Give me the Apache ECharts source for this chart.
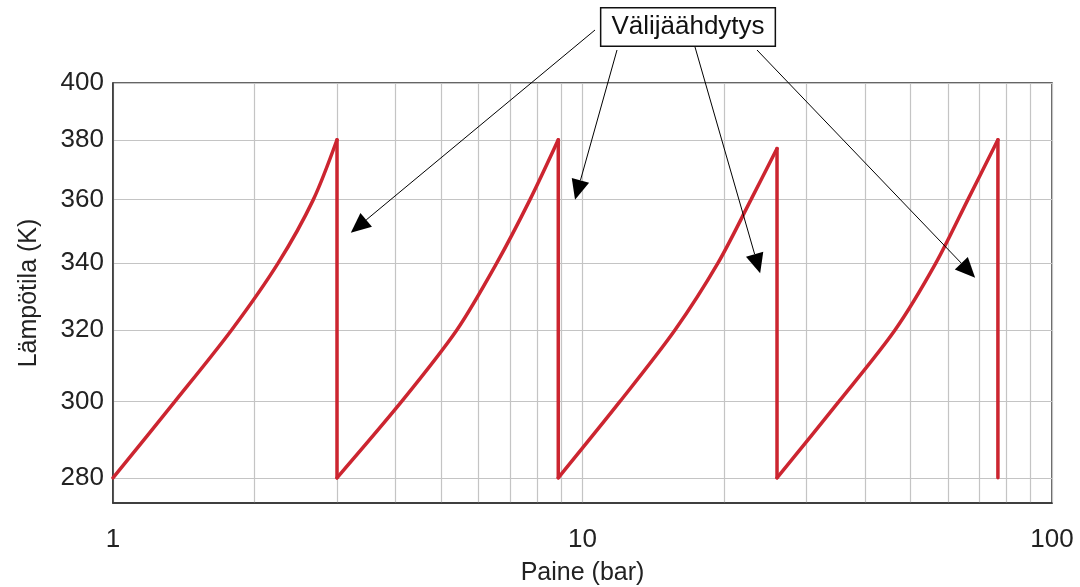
<!DOCTYPE html>
<html><head><meta charset="utf-8">
<script src="https://cdn.jsdelivr.net/npm/echarts@6/dist/echarts.min.js"></script>
<style>html,body{margin:0;padding:0;background:#fff}#c{width:1080px;height:587px}</style>
</head><body><div id="c"></div>
<script>
// ---- data ----
const xGridValues = [1,2,3,4,5,6,7,8,9,10,20,30,40,50,60,70,80,90,100];
const xLabelValues = [1,10,100];
const yTickValues = [280,300,320,340,360,380,400];
// four compression stages with intercooling between them (pressure in bar, temperature in K)
const pressure    = [1, 1.355, 1.789, 2.249, 2.671, 3.0, 3.0, 4.12, 5.40, 6.57, 7.73, 8.88, 8.88, 12.02, 15.74, 19.44, 22.85, 25.96, 25.96, 35.18, 46.31, 56.6, 66.2, 76.7, 76.7];
const temperature = [280, 300, 320, 340, 360, 380, 280, 300, 320, 340, 360, 380, 280, 300, 320, 340, 360, 377, 280, 300, 320, 340, 360, 380, 280];
const annotationText = 'Välijäähdytys';
const arrowTargetP = [3.21, 9.64, 23.9, 68.6];
const arrowTargetT = [349.4, 360, 336.8, 335.5];

const FONT = '"Liberation Sans", Arial, sans-serif';
const chart = echarts.init(document.getElementById('c'), null, {renderer: 'canvas'});

// split the path: rising compression curves (smooth) and vertical intercooling drops
const compression = [], cooling = [];
for (let i = 0; i < pressure.length; i++) {
  const pt = [pressure[i], temperature[i]];
  const prevSameX = i > 0 && pressure[i - 1] === pressure[i];
  if (prevSameX) { // bottom of a drop -> start of a new compression curve
    cooling.push([pressure[i - 1], temperature[i - 1]], pt, null);
    compression.push(null);
  }
  compression.push(pt);
}

chart.setOption({
  animation: false,
  backgroundColor: '#fff',
  grid: {left: 113, right: 28, top: 83, bottom: 84, outerBoundsMode: 'none', containLabel: false,
    show: true, borderColor: '#333', borderWidth: 1.5, backgroundColor: 'transparent'},
  xAxis: {
    type: 'log', logBase: 10, min: 1, max: 100,
    name: 'Paine (bar)', nameLocation: 'middle', nameGap: 58,
    nameTextStyle: {fontFamily: FONT, fontSize: 25, color: '#222'},
    axisLine: {show: true, lineStyle: {color: '#333', width: 1.5}},
    axisTick: {show: false, customValues: xGridValues},
    axisLabel: {customValues: xLabelValues, fontFamily: FONT, fontSize: 26, color: '#222', margin: 24},
    splitLine: {show: true, lineStyle: {color: '#c4c4c4', width: 1.2}}
  },
  yAxis: {
    type: 'log', logBase: 10, min: 273.7, max: 400,
    name: 'Lämpötila (K)', nameLocation: 'middle', nameGap: 71,
    nameTextStyle: {fontFamily: FONT, fontSize: 25, color: '#222'},
    axisLine: {show: true, lineStyle: {color: '#333', width: 1.5}},
    axisTick: {show: false, customValues: yTickValues},
    axisLabel: {customValues: yTickValues, fontFamily: FONT, fontSize: 26, color: '#222', margin: 9},
    splitLine: {show: true, lineStyle: {color: '#c4c4c4', width: 1.2}}
  },
  series: [{
    type: 'line', data: compression, showSymbol: false, smooth: 0.3, connectNulls: false,
    lineStyle: {color: '#cc2530', width: 3.5, cap: 'round'}, clip: false
  }, {
    type: 'line', data: cooling, showSymbol: false, smooth: false, connectNulls: false,
    lineStyle: {color: '#cc2530', width: 3.5, cap: 'round'}, clip: false
  }]
});

// annotation box and arrows
const boxCenter = [688, 27];
const arrowStarts = [[595, 30], [617, 50], [695, 47], [757, 50]];
const graphics = [];
arrowTargetP.forEach((p, i) => {
  const end = chart.convertToPixel({gridIndex: 0}, [p, arrowTargetT[i]]);
  const s = arrowStarts[i];
  const dx = end[0] - s[0], dy = end[1] - s[1];
  const len = Math.hypot(dx, dy), ux = dx / len, uy = dy / len;
  const hl = 20, hw = 9;
  const bx = end[0] - ux * hl, by = end[1] - uy * hl;
  graphics.push({type: 'line', z: 100, shape: {x1: s[0], y1: s[1], x2: bx, y2: by}, style: {stroke: '#000', lineWidth: 1}});
  graphics.push({type: 'polygon', z: 100, shape: {points: [end, [bx - uy * hw, by + ux * hw], [bx + uy * hw, by - ux * hw]]}, style: {fill: '#000'}});
});
graphics.push({
  type: 'text', z: 101, x: boxCenter[0], y: boxCenter[1],
  style: {text: annotationText, fontFamily: FONT, fontSize: 26, fill: '#111', align: 'center', verticalAlign: 'middle',
    backgroundColor: '#fff', borderColor: '#111', borderWidth: 1.5, padding: [6, 10, 5, 10]}
});
chart.setOption({graphic: graphics});
</script>
</body></html>
